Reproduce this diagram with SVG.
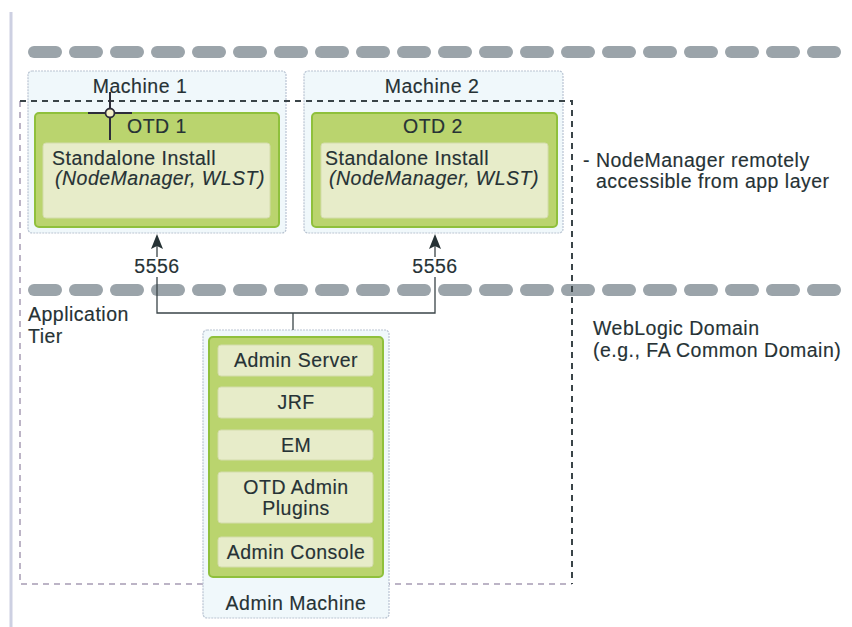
<svg xmlns="http://www.w3.org/2000/svg" width="852" height="627" viewBox="0 0 852 627">
<defs>
<style>
text{font-family:"Liberation Sans",Arial,sans-serif;font-size:19.5px;fill:#263235;letter-spacing:0.5px;stroke:#263235;stroke-width:0.15px}
.c{text-anchor:middle}
.it{font-style:italic}
.machine{fill:#f0f8fb;stroke:#b9c4d2;stroke-width:1.2;stroke-dasharray:2 1}
.otd{fill:#bad46e;stroke:#8fc03c;stroke-width:2}
.inner{fill:#e7ecc9;stroke:#d3dcab;stroke-width:1}
.conn{fill:none;stroke:#3a4448;stroke-width:1.3}
.ah{fill:#263235}
</style>
<rect id="dash" width="34" height="12" rx="6" fill="#9ba4aa"/>
</defs>
<rect width="852" height="627" fill="#ffffff"/>
<!-- left border line -->
<line x1="11" y1="12" x2="11" y2="627" stroke="#cdd0e2" stroke-width="3"/>

<!-- network rows -->
<g id="network-top">
<use href="#dash" x="28" y="46"/><use href="#dash" x="69" y="46"/><use href="#dash" x="110" y="46"/><use href="#dash" x="151" y="46"/><use href="#dash" x="192" y="46"/><use href="#dash" x="233" y="46"/><use href="#dash" x="274" y="46"/><use href="#dash" x="315" y="46"/><use href="#dash" x="356" y="46"/><use href="#dash" x="397" y="46"/><use href="#dash" x="438" y="46"/><use href="#dash" x="479" y="46"/><use href="#dash" x="520" y="46"/><use href="#dash" x="561" y="46"/><use href="#dash" x="602" y="46"/><use href="#dash" x="643" y="46"/><use href="#dash" x="684" y="46"/><use href="#dash" x="725" y="46"/><use href="#dash" x="766" y="46"/><use href="#dash" x="807" y="46"/>
</g>
<g id="network-app">
<use href="#dash" x="28" y="284"/><use href="#dash" x="69" y="284"/><use href="#dash" x="110" y="284"/><use href="#dash" x="151" y="284"/><use href="#dash" x="192" y="284"/><use href="#dash" x="233" y="284"/><use href="#dash" x="274" y="284"/><use href="#dash" x="315" y="284"/><use href="#dash" x="356" y="284"/><use href="#dash" x="397" y="284"/><use href="#dash" x="438" y="284"/><use href="#dash" x="479" y="284"/><use href="#dash" x="520" y="284"/><use href="#dash" x="561" y="284"/><use href="#dash" x="602" y="284"/><use href="#dash" x="643" y="284"/><use href="#dash" x="684" y="284"/><use href="#dash" x="725" y="284"/><use href="#dash" x="766" y="284"/><use href="#dash" x="807" y="284"/>
</g>

<!-- domain boundary (left/bottom light) -->
<g id="domain-light">
<path d="M20 101 V584 H572" fill="none" stroke="#bcb4c6" stroke-width="2" stroke-dasharray="6 5"/>
</g>

<!-- Machine 1 -->
<g id="machine1">
<rect class="machine" x="28" y="71" width="258" height="162" rx="4"/>
<text class="c" x="140" y="93">Machine 1</text>
<rect class="otd" x="35" y="113" width="244" height="114" rx="4"/>
<text class="c" x="157" y="133">OTD 1</text>
<rect class="inner" x="43" y="143" width="227" height="75" rx="3"/>
<text x="52" y="165">Standalone Install</text>
<text class="it" x="55" y="185">(NodeManager, WLST)</text>
</g>

<!-- Machine 2 -->
<g id="machine2">
<rect class="machine" x="304" y="71" width="259" height="162" rx="4"/>
<text class="c" x="432" y="93">Machine 2</text>
<rect class="otd" x="312" y="113" width="245" height="114" rx="4"/>
<text class="c" x="433" y="133">OTD 2</text>
<rect class="inner" x="321" y="143" width="227" height="75" rx="3"/>
<text x="325" y="165">Standalone Install</text>
<text class="it" x="329" y="185">(NodeManager, WLST)</text>
</g>

<!-- domain boundary (top/right dark) -->
<g id="domain-dark">
<path d="M20 101 H572 V584" fill="none" stroke="#3a4448" stroke-width="2" stroke-dasharray="6 5"/>
</g>

<!-- Admin Machine -->
<g id="admin-machine">
<rect class="machine" x="203" y="330" width="186" height="288" rx="4"/>
<rect class="otd" x="209" y="337" width="174" height="240" rx="4"/>
<g id="admin-server"><rect class="inner" x="218" y="345" width="155" height="31" rx="3"/><text class="c" x="296" y="367">Admin Server</text></g>
<g id="jrf"><rect class="inner" x="218" y="387" width="155" height="31" rx="3"/><text class="c" x="296" y="409">JRF</text></g>
<g id="em"><rect class="inner" x="218" y="430" width="155" height="30" rx="3"/><text class="c" x="296" y="452">EM</text></g>
<g id="otd-admin-plugins"><rect class="inner" x="218" y="472" width="155" height="51" rx="3"/><text class="c" x="296" y="494">OTD Admin</text><text class="c" x="296" y="515">Plugins</text></g>
<g id="admin-console"><rect class="inner" x="218" y="537" width="155" height="30" rx="3"/><text class="c" x="296" y="559">Admin Console</text></g>
<text class="c" x="296" y="610">Admin Machine</text>
</g>

<!-- connectors -->
<g id="connectors">
<path class="conn" d="M157 257 V244"/>
<path class="ah" d="M157 234 L163 249 L157 246 L151 249 Z"/>
<path class="conn" d="M435 257 V244"/>
<path class="ah" d="M435 234 L441 249 L435 246 L429 249 Z"/>
<path class="conn" d="M157 277 V313 H435 V277"/>
<path class="conn" d="M293 313 V330"/>
<text class="c" x="157" y="273">5556</text>
<text class="c" x="435" y="273">5556</text>
</g>

<!-- labels -->
<g id="labels">
<text x="28" y="321">Application</text>
<text x="28" y="343">Tier</text>
<text x="583" y="167">- NodeManager remotely</text>
<text x="596" y="188">accessible from app layer</text>
<text x="593" y="335">WebLogic Domain</text>
<text x="593" y="357">(e.g., FA Common Domain)</text>
</g>

<!-- cursor crosshair -->
<g id="cursor">
<line x1="110" y1="92" x2="110" y2="140" stroke="#2d2d3a" stroke-width="2"/>
<line x1="88" y1="113" x2="132" y2="113" stroke="#2d2d3a" stroke-width="2"/>
<circle cx="110" cy="113" r="4.5" fill="#f4f0c8" stroke="#2d2d3a" stroke-width="1.8"/>
</g>
</svg>
